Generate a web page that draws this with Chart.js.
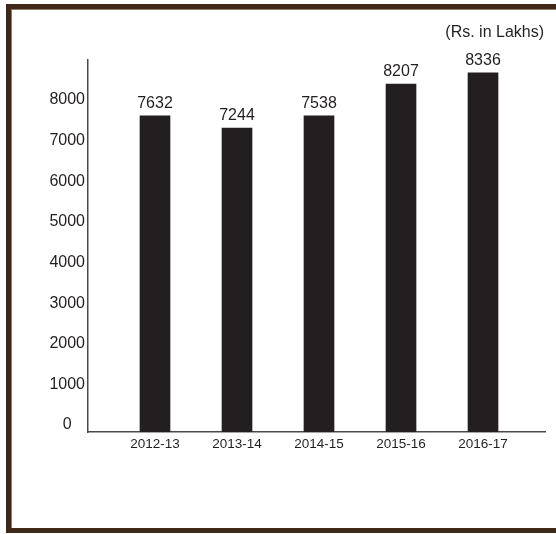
<!DOCTYPE html>
<html>
<head>
<meta charset="utf-8">
<script src="https://cdn.jsdelivr.net/npm/chart.js@4"></script>
<style>
  html, body { margin: 0; padding: 0; background: #ffffff; }
  #wrap { position: relative; width: 556px; height: 534px; overflow: hidden; background: #fff; }
  #frame { position: absolute; left: 6px; top: 4px; width: 560px; height: 519px; border: 5px solid #3f2818; box-shadow: inset 1px 1px 0 #8c7b6c; }
  canvas { position: absolute; left: 0; top: 0; }
</style>
</head>
<body>
<div id="wrap">
  <div id="frame"></div>
  <canvas id="c" width="556" height="534"></canvas>
</div>
<script>
// Categories (financial years)
const categories = ["2012-13", "2013-14", "2014-15", "2015-16", "2016-17"];
// Bar heights as drawn in the picture (Rs. in Lakhs)
const barHeights = [7610, 7310, 7610, 8390, 8670];
// Values printed above the bars
const valueLabels = ["7632", "7244", "7538", "8207", "8336"];
// Y-axis tick values
const yTicks = [0, 1000, 2000, 3000, 4000, 5000, 6000, 7000, 8000];
const unitLabel = "(Rs. in Lakhs)";

const Y_MIN = -172, Y_MAX = 8985;
const X_MIN = -0.817, X_MAX = 4.756;
const FONT = "'Liberation Sans', Arial, sans-serif";
const INK = "#231f20";

const valueLabelPlugin = {
  id: 'valueLabels',
  afterDatasetsDraw(chart) {
    const ctx = chart.ctx;
    const meta = chart.getDatasetMeta(0);
    ctx.save();
    ctx.font = "16px " + FONT;
    ctx.fillStyle = INK;
    ctx.textAlign = 'center';
    ctx.textBaseline = 'middle';
    meta.data.forEach((bar, i) => {
      ctx.fillText(valueLabels[i], bar.x, bar.y - 12.5);
    });
    // unit label top right
    ctx.textAlign = 'right';
    ctx.fillText(unitLabel, 544, 33);
    ctx.restore();
  }
};

new Chart(document.getElementById('c'), {
  type: 'bar',
  data: {
    datasets: [{
      data: categories.map((c, i) => ({ x: i, y: barHeights[i] })),
      backgroundColor: INK,
      borderWidth: 0,
      barThickness: 30,
      base: Y_MIN
    }]
  },
  options: {
    responsive: false,
    animation: false,
    devicePixelRatio: 1,
    layout: { padding: { left: 0, right: 11, top: 60, bottom: 0 } },
    plugins: { legend: { display: false }, tooltip: { enabled: false }, title: { display: false } },
    scales: {
      x: {
        type: 'linear',
        min: X_MIN,
        max: X_MAX,
        offset: false,
        grid: { display: false, offset: false, drawTicks: false, tickLength: 0 },
        border: { display: true, color: '#4a4a4a', width: 1.5 },
        afterBuildTicks(scale) { scale.ticks = categories.map((c, i) => ({ value: i })); },
        afterFit(scale) { scale.height = 102; },
        ticks: {
          autoSkip: false,
          maxRotation: 0,
          padding: 4,
          color: INK,
          font: { family: FONT, size: 13.5 },
          callback: (v) => categories[v]
        }
      },
      y: {
        type: 'linear',
        min: Y_MIN,
        max: Y_MAX,
        grid: { display: false, drawTicks: false, tickLength: 0 },
        border: { display: true, color: '#4a4a4a', width: 1.5 },
        afterBuildTicks(scale) { scale.ticks = yTicks.map(v => ({ value: v })); },
        afterFit(scale) { scale.width = 88; },
        ticks: {
          autoSkip: false,
          padding: 3,
          crossAlign: 'center',
          color: INK,
          font: { family: FONT, size: 16 },
          callback: (v) => String(v)
        }
      }
    }
  },
  plugins: [valueLabelPlugin]
});
</script>
</body>
</html>
